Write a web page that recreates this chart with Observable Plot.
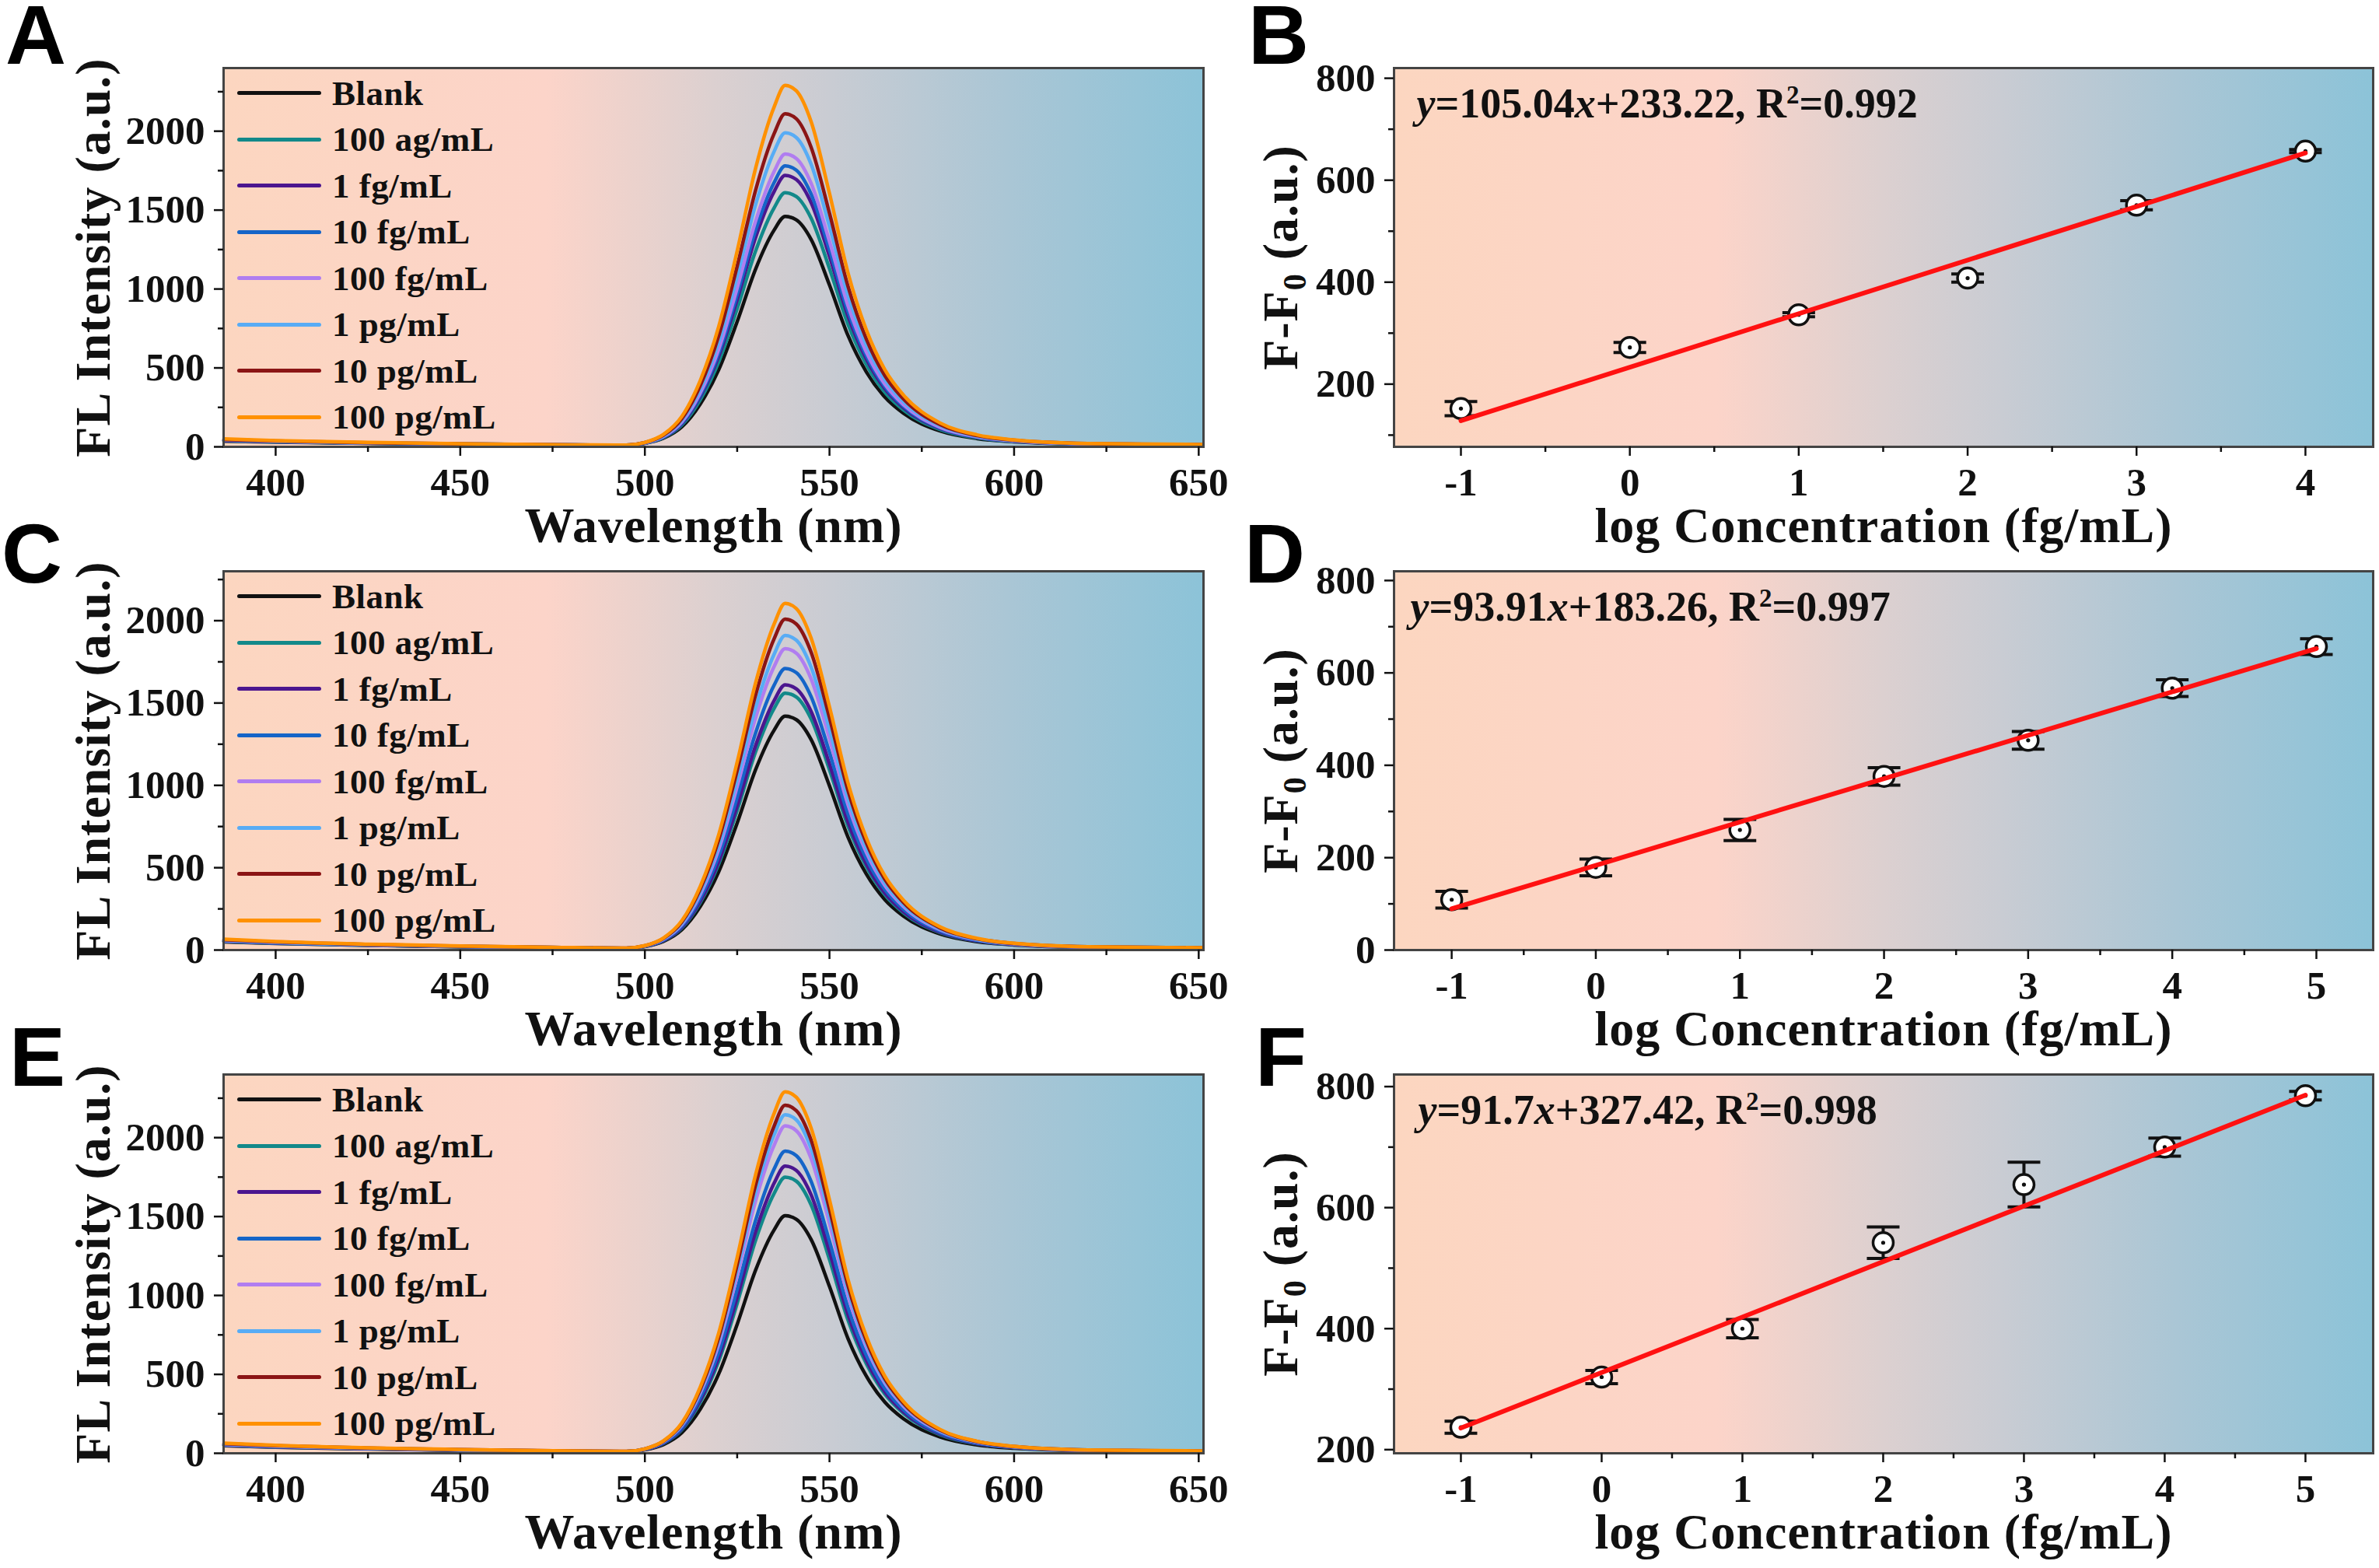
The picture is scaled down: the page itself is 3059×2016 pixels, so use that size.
<!DOCTYPE html>
<html><head><meta charset="utf-8">
<script src="https://cdn.jsdelivr.net/npm/d3@7"></script>
<script src="https://cdn.jsdelivr.net/npm/@observablehq/plot@0.6"></script>
<style>
html,body{margin:0;padding:0;background:#fff;overflow:hidden;}
#fig{position:relative;width:3059px;height:2016px;overflow:hidden;background:#fff;}
.panel{position:absolute;}
.letter{position:absolute;font-family:"Liberation Sans",Arial,sans-serif;font-weight:bold;font-size:108px;line-height:0.8;color:#000;}
.legend{position:absolute;font-family:"Liberation Serif","Times New Roman",serif;font-weight:bold;font-size:45px;color:#111;letter-spacing:0.5px;}
.legend .row{display:flex;align-items:center;height:59.5px;}
.legend .sw{width:108px;height:5px;border-radius:2.5px;margin-right:14px;}
</style></head>
<body><div id="fig"></div>
<script>
// ---------------- data ----------------
const wavelengths = [386, 400, 425, 450, 475, 495, 500, 505, 510, 515, 520, 525, 530, 535, 538, 541, 545, 550, 555, 560, 565, 570, 580, 590, 600, 620, 651];
const concentrations = ["Blank", "100 ag/mL", "1 fg/mL", "10 fg/mL", "100 fg/mL", "1 pg/mL", "10 pg/mL", "100 pg/mL"];
const seriesColors = ["#111111", "#12898a", "#4b168f", "#1565c8", "#b07df0", "#58acf5", "#8b1515", "#ff9100"];

const spectraA = [
  [36,30,22,17,12,10, 22, 54, 126, 271, 489, 793, 1127, 1373, 1460, 1438, 1315, 1025, 706, 474, 315, 213, 100, 52, 32, 17, 13],
  [38,31,23,17,12,10, 23, 58, 138, 298, 538, 874, 1242, 1514, 1610, 1586, 1450, 1130, 778, 522, 346, 234, 109, 56, 34, 18, 13],
  [40,32,24,18,12,10, 24, 61, 147, 318, 574, 933, 1327, 1617, 1720, 1694, 1549, 1207, 831, 557, 369, 249, 116, 60, 36, 19, 13],
  [42,33,24,18,13,10, 24, 63, 152, 329, 594, 966, 1373, 1674, 1780, 1753, 1603, 1249, 860, 576, 382, 258, 120, 61, 37, 19, 14],
  [43,34,25,18,13,10, 25, 65, 158, 342, 619, 1006, 1431, 1744, 1855, 1827, 1671, 1302, 896, 600, 397, 268, 124, 64, 38, 19, 14],
  [44,35,25,19,13,11, 26, 69, 168, 366, 663, 1079, 1535, 1871, 1990, 1960, 1792, 1396, 960, 644, 426, 287, 133, 67, 40, 20, 14],
  [46,37,26,19,13,11, 27, 73, 178, 388, 703, 1144, 1627, 1984, 2110, 2079, 1900, 1480, 1018, 682, 451, 304, 140, 71, 42, 21, 14],
  [50,40,28,20,14,11, 28, 78, 192, 420, 762, 1241, 1766, 2153, 2290, 2256, 2062, 1606, 1104, 740, 489, 329, 151, 76, 44, 21, 15]
];
const spectraC = [
  [50,40,28,20,14,10, 21, 52, 123, 264, 475, 771, 1096, 1335, 1420, 1399, 1279, 997, 687, 461, 306, 207, 97, 51, 31, 17, 13],
  [52,41,29,20,14,10, 22, 57, 134, 289, 522, 847, 1204, 1467, 1560, 1537, 1405, 1095, 754, 506, 336, 227, 106, 55, 33, 18, 13],
  [54,43,30,21,15,11, 23, 58, 138, 298, 538, 874, 1242, 1514, 1610, 1586, 1450, 1130, 778, 522, 346, 234, 109, 56, 34, 18, 13],
  [56,44,31,22,15,11, 24, 61, 146, 316, 571, 928, 1319, 1608, 1710, 1685, 1540, 1200, 826, 554, 367, 248, 115, 59, 36, 19, 13],
  [58,46,32,22,15,11, 25, 65, 156, 338, 611, 993, 1411, 1721, 1830, 1803, 1648, 1284, 884, 592, 392, 265, 123, 63, 37, 19, 14],
  [60,47,33,23,16,11, 25, 67, 162, 352, 637, 1036, 1473, 1796, 1910, 1882, 1720, 1340, 922, 618, 409, 276, 128, 65, 39, 20, 14],
  [62,49,34,24,16,12, 26, 70, 170, 370, 670, 1090, 1550, 1890, 2010, 1980, 1810, 1410, 970, 650, 430, 290, 134, 68, 40, 20, 14],
  [66,52,36,25,17,12, 27, 73, 178, 387, 701, 1141, 1623, 1979, 2105, 2074, 1896, 1477, 1016, 680, 450, 303, 140, 71, 41, 20, 14]
];
const spectraE = [
  [48,38,27,19,13,10, 22, 55, 130, 279, 503, 817, 1161, 1415, 1505, 1483, 1356, 1057, 728, 488, 324, 219, 103, 53, 32, 17, 13],
  [50,40,28,20,14,10, 24, 62, 149, 323, 584, 950, 1350, 1646, 1750, 1724, 1576, 1228, 845, 567, 375, 254, 118, 60, 36, 19, 13],
  [52,41,29,20,14,11, 24, 64, 155, 336, 607, 987, 1404, 1711, 1820, 1793, 1639, 1277, 879, 589, 390, 263, 122, 62, 37, 19, 14],
  [54,43,30,21,15,11, 25, 67, 162, 353, 639, 1039, 1477, 1801, 1915, 1886, 1724, 1343, 924, 620, 410, 277, 128, 65, 39, 20, 14],
  [56,44,31,22,15,11, 27, 72, 175, 382, 691, 1125, 1600, 1951, 2075, 2044, 1869, 1456, 1001, 671, 444, 299, 138, 70, 41, 20, 14],
  [58,46,32,22,15,11, 27, 74, 181, 394, 715, 1163, 1654, 2017, 2145, 2113, 1932, 1505, 1035, 693, 458, 309, 142, 72, 42, 21, 14],
  [60,48,33,23,16,12, 28, 76, 186, 405, 734, 1195, 1700, 2073, 2205, 2172, 1986, 1547, 1064, 712, 471, 317, 146, 74, 43, 21, 14],
  [64,50,34,24,16,12, 28, 78, 192, 420, 762, 1241, 1766, 2153, 2290, 2256, 2062, 1606, 1104, 740, 489, 329, 151, 76, 44, 21, 15]
];

const logConcB = [-1, 0, 1, 2, 3, 4];
const responseB = [152, 272, 336, 408, 551, 657];
const errorB = [14, 10, 4, 8, 9, 3];
const fitB = [105.04, 233.22];
const r2B = 0.992;

const logConcD = [-1, 0, 1, 2, 3, 4, 5];
const responseD = [109, 179, 260, 376, 454, 567, 657];
const errorD = [18, 18, 23, 19, 19, 18, 17];
const fitD = [93.91, 183.26];
const r2D = 0.997;

const logConcF = [-1, 0, 1, 2, 3, 4, 5];
const responseF = [237, 320, 400, 542, 638, 700, 785];
const errorF = [10, 11, 15, 26, 37, 15, 7];
const fitF = [91.7, 327.42];
const r2F = 0.998;

const wavelengthTicks = [400, 450, 500, 550, 600, 650];
const wavelengthMinor = [425, 475, 525, 575, 625];
const intensityTicks = [0, 500, 1000, 1500, 2000];
const intensityMinor = [250, 750, 1250, 1750, 2250];
const logTicksB = [-1, 0, 1, 2, 3, 4];
const logMinorB = [-0.5, 0.5, 1.5, 2.5, 3.5];
const logTicksDF = [-1, 0, 1, 2, 3, 4, 5];
const logMinorDF = [-0.5, 0.5, 1.5, 2.5, 3.5, 4.5];
const respTicksB = [200, 400, 600, 800];
const respMinorB = [100, 300, 500, 700];
const respTicksD = [0, 200, 400, 600, 800];
const respMinorD = [100, 300, 500, 700];
const respTicksF = [200, 400, 600, 800];
const respMinorF = [300, 500, 700];

// ---------------- styling ----------------
const SERIF = '"Liberation Serif","Times New Roman",serif';
const gradientStops = [[0, "#fcd6c0"], [0.33, "#fcd4c9"], [0.5, "#dcd0d0"], [0.62, "#c9ccd3"], [0.8, "#aac6d5"], [1, "#8cc3d8"]];
const fig = document.getElementById("fig");

function background(id) {
  return (index, scales, values, dims) => {
    const g = d3.create("svg:g");
    const grad = g.append("defs").append("linearGradient").attr("id", id)
      .attr("x1", 0).attr("x2", 1).attr("y1", 0).attr("y2", 0);
    for (const [o, c] of gradientStops) grad.append("stop").attr("offset", o).attr("stop-color", c);
    g.append("rect")
      .attr("x", dims.marginLeft).attr("y", dims.marginTop)
      .attr("width", dims.width - dims.marginLeft - dims.marginRight)
      .attr("height", dims.height - dims.marginTop - dims.marginBottom)
      .attr("fill", `url(#${id})`);
    return g.node();
  };
}

function axes({xTicks, xMinor, yTicks, yMinor}) {
  const common = {fontFamily: SERIF, fontWeight: "bold", color: "#111", strokeWidth: 2.5, label: null};
  return [
    Plot.axisX({...common, ticks: xTicks, tickSize: 12, tickPadding: 14, fontSize: 51, tickFormat: d => String(d)}),
    Plot.axisX({...common, ticks: xMinor, tickSize: 7, tickFormat: () => ""}),
    Plot.axisY({...common, ticks: yTicks, tickSize: 12, tickPadding: 12, fontSize: 51, tickFormat: d => String(d)}),
    Plot.axisY({...common, ticks: yMinor, tickSize: 7, tickFormat: () => ""})
  ];
}

function titles(xTitle, yTitle, yDx) {
  const t = {fontFamily: SERIF, fontWeight: "bold", fontSize: 64, fill: "#111", text: d => d, textAnchor: "middle", lineAnchor: "middle"};
  return [
    Plot.text([xTitle], {...t, frameAnchor: "bottom", dy: 102}),
    Plot.text([yTitle], {...t, frameAnchor: "left", dx: yDx, rotate: -90})
  ];
}

function spaceTitles(svg, keys) {
  for (const t of svg.querySelectorAll("text")) {
    if (keys.includes(t.textContent)) t.style.letterSpacing = "1px";
  }
}

function place(svg, left, top) {
  const div = document.createElement("div");
  div.className = "panel";
  div.style.left = left + "px";
  div.style.top = top + "px";
  div.appendChild(svg);
  fig.appendChild(div);
}

function letter(ch, left, top) {
  const d = document.createElement("div");
  d.className = "letter";
  d.textContent = ch;
  d.style.left = left + "px";
  d.style.top = top + "px";
  fig.appendChild(d);
}

function legend(left, top) {
  const d = document.createElement("div");
  d.className = "legend";
  d.style.left = left + "px";
  d.style.top = top + "px";
  concentrations.forEach((c, i) => {
    const row = document.createElement("div");
    row.className = "row";
    const sw = document.createElement("span");
    sw.className = "sw";
    sw.style.background = seriesColors[i];
    const tx = document.createElement("span");
    tx.textContent = c;
    row.appendChild(sw); row.appendChild(tx);
    d.appendChild(row);
  });
  fig.appendChild(d);
}

const FRAME_H = 487;
const MT = 30, MB = 150;

function spectraPanel(id, frameTop, spectra, yDomain) {
  const rows = [];
  spectra.forEach((arr, i) => arr.forEach((v, j) => rows.push({series: concentrations[i], w: wavelengths[j], v})));
  const xTitle = "Wavelength (nm)", yTitle = "FL Intensity (a.u.)";
  const svg = Plot.plot({
    width: 1567, height: MT + FRAME_H + MB,
    marginLeft: 287, marginRight: 20, marginTop: MT, marginBottom: MB,
    style: {background: "transparent", maxWidth: "none", overflow: "visible", fontFamily: SERIF},
    x: {domain: [385.9, 651.3]},
    y: {domain: yDomain},
    color: {domain: concentrations, range: seriesColors},
    marks: [
      background("grad" + id),
      Plot.line(rows, {x: "w", y: "v", z: "series", stroke: "series", strokeWidth: 4.5, curve: "monotone-x"}),
      Plot.frame({stroke: "#444", strokeWidth: 3}),
      ...axes({xTicks: wavelengthTicks, xMinor: wavelengthMinor, yTicks: intensityTicks, yMinor: intensityMinor}),
      ...titles(xTitle, yTitle, -167)
    ]
  });
  spaceTitles(svg, [xTitle, yTitle]);
  place(svg, 0, frameTop - MT);
  legend(305, frameTop + 3);
}

const capSymbol = {draw(ctx) { ctx.moveTo(-21, 0); ctx.lineTo(21, 0); }};

function calibPanel(id, frameTop, xDomain, xTicks, xMinor, yDomain, yTicks, yMinor, logc, resp, err, fit, r2, eqDx) {
  const pts = logc.map((x, i) => ({x, y: resp[i], e: err[i]}));
  const caps = pts.flatMap(d => [{x: d.x, y: d.y + d.e}, {x: d.x, y: d.y - d.e}]);
  const x0 = logc[0], x1 = logc[logc.length - 1];
  const fitRows = [{x: x0, y: fit[0] * x0 + fit[1]}, {x: x1, y: fit[0] * x1 + fit[1]}];
  const eqKey = `y=${fit[0]}x+${fit[1]}, R2=${r2}`;
  const xTitle = "log Concentration (fg/mL)";
  const yKey = "F-F0 (a.u.)";
  const svg = Plot.plot({
    width: 1467, height: MT + FRAME_H + MB,
    marginLeft: 200, marginRight: 8, marginTop: MT, marginBottom: MB,
    style: {background: "transparent", maxWidth: "none", overflow: "visible", fontFamily: SERIF},
    x: {domain: xDomain},
    y: {domain: yDomain},
    marks: [
      background("grad" + id),
      Plot.ruleX(pts, {x: "x", y1: d => d.y - d.e, y2: d => d.y + d.e, stroke: "#111", strokeWidth: 4}),
      Plot.dot(caps, {x: "x", y: "y", symbol: capSymbol, stroke: "#111", strokeWidth: 4, fill: "none"}),
      Plot.dot(pts, {x: "x", y: "y", r: 13, fill: "white", stroke: "#111", strokeWidth: 3.5}),
      Plot.dot(pts, {x: "x", y: "y", r: 2.6, fill: "#111"}),
      Plot.line(fitRows, {x: "x", y: "y", stroke: "#ff1111", strokeWidth: 6}),
      Plot.frame({stroke: "#444", strokeWidth: 3}),
      Plot.text([eqKey], {text: d => d, frameAnchor: "top-left", dx: eqDx, dy: 46, textAnchor: "start", lineAnchor: "middle",
        fontFamily: SERIF, fontWeight: "bold", fontSize: 54, fill: "#111"}),
      ...axes({xTicks, xMinor, yTicks, yMinor}),
      ...titles(xTitle, yKey, -145)
    ]
  });
  spaceTitles(svg, [xTitle, yKey]);
  for (const t of svg.querySelectorAll("text")) {
    if (t.textContent === eqKey) {
      t.innerHTML = `<tspan font-style="italic">y</tspan>=${fit[0]}<tspan font-style="italic">x</tspan>+${fit[1]}, R<tspan dy="-18" font-size="33">2</tspan><tspan dy="18">=${r2}</tspan>`;
    } else if (t.textContent === yKey) {
      t.innerHTML = `F-F<tspan dy="11" font-size="42">0</tspan><tspan dy="-11"> (a.u.)</tspan>`;
    }
  }
  place(svg, 1592, frameTop - MT);
}

spectraPanel("A", 87, spectraA, [0, 2400]);
spectraPanel("C", 734, spectraC, [0, 2300]);
spectraPanel("E", 1381, spectraE, [0, 2400]);

calibPanel("B", 87, [-1.396, 4.401], logTicksB, logMinorB, [77, 820], respTicksB, respMinorB, logConcB, responseB, errorB, fitB, r2B, 29);
calibPanel("D", 734, [-1.4, 5.394], logTicksDF, logMinorDF, [0, 820], respTicksD, respMinorD, logConcD, responseD, errorD, fitD, r2D, 21);
calibPanel("F", 1381, [-1.475, 5.481], logTicksDF, logMinorDF, [194, 820], respTicksF, respMinorF, logConcF, responseF, errorF, fitF, r2F, 31);

letter("A", 7, 2);
letter("B", 1605, 2);
letter("C", 2, 669);
letter("D", 1600, 669);
letter("E", 12, 1316);
letter("F", 1614, 1316);
</script></body></html>
